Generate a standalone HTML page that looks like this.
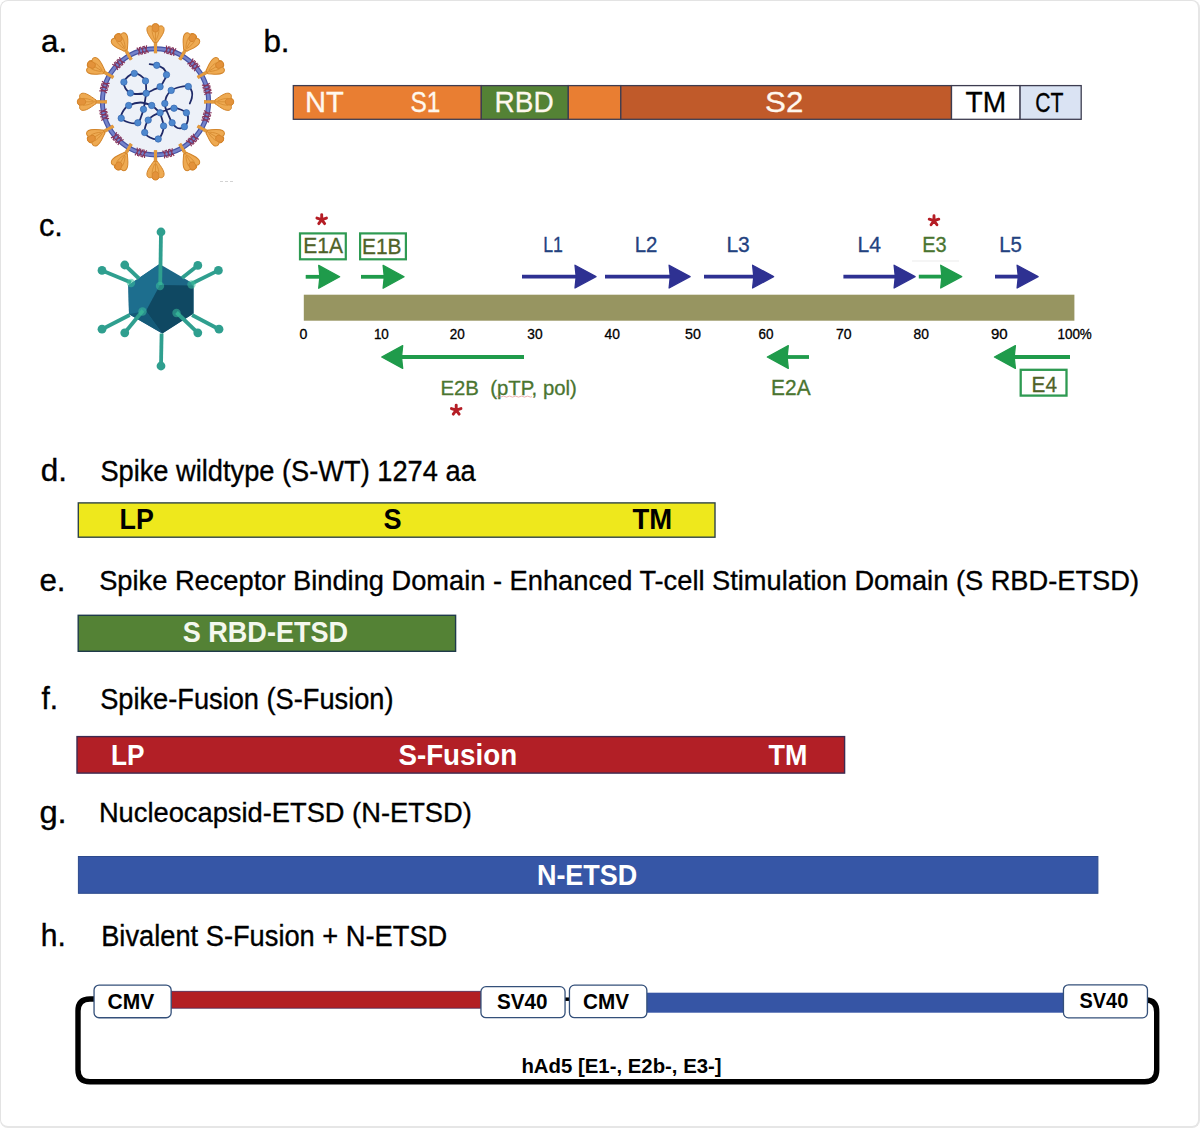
<!DOCTYPE html>
<html><head><meta charset="utf-8"><style>
html,body{margin:0;padding:0;background:#fff;width:1200px;height:1128px;overflow:hidden;font-family:"Liberation Sans", sans-serif;}
#frame{position:absolute;left:0;top:0;width:1197px;height:1125px;border:1px solid #e3e3e3;border-right:2px solid #e6e6e6;border-bottom:2px solid #e6e6e6;border-radius:8px;box-sizing:content-box;}
</style></head><body>
<div id="frame"></div>
<svg width="1200" height="1128" viewBox="0 0 1200 1128" style="position:absolute;left:0;top:0" font-family='"Liberation Sans", sans-serif'><text id="la" x="41.00" y="51.8" font-size="30.5" font-weight="normal" fill="#000" text-anchor="start" textLength="26.10" lengthAdjust="spacingAndGlyphs" stroke="#000" stroke-width="0.35">a.</text>
<text id="lb" x="263.40" y="51.6" font-size="30.5" font-weight="normal" fill="#000" text-anchor="start" textLength="26.13" lengthAdjust="spacingAndGlyphs" stroke="#000" stroke-width="0.35">b.</text>
<text id="lc" x="39.00" y="235.7" font-size="30.5" font-weight="normal" fill="#000" text-anchor="start" textLength="23.84" lengthAdjust="spacingAndGlyphs" stroke="#000" stroke-width="0.35">c.</text>
<g id="corona"><circle cx="155.5" cy="101.8" r="51.5" fill="#edf1f8"/><g transform="translate(155.50,101.80) rotate(0)"><rect x="-1.4" y="-62" width="2.8" height="13" fill="#e39b3e" stroke="#cf8228" stroke-width="0.5"/><path d="M-1.9,-59.5 C-4,-63 -8.6,-68 -8.6,-72.4 C-8.6,-75.6 -6,-76.6 -3.8,-75.5 C-3,-78.7 3,-78.7 3.8,-75.5 C6,-76.6 8.6,-75.6 8.6,-72.4 C8.6,-68 4,-63 1.9,-59.5 Z" fill="#eeaa52" stroke="#d2842a" stroke-width="1"/><ellipse cx="0" cy="-74" rx="3.3" ry="4.2" fill="#e3923a" stroke="#d07f25" stroke-width="0.7"/><path d="M0,-60.5 L0,-70 M-0.8,-62 C-2.6,-66 -3.6,-69.5 -3.4,-72.5 M0.8,-62 C2.6,-66 3.6,-69.5 3.4,-72.5" fill="none" stroke="#d58a30" stroke-width="0.8"/></g><g transform="translate(155.50,101.80) rotate(30)"><rect x="-1.4" y="-62" width="2.8" height="13" fill="#e39b3e" stroke="#cf8228" stroke-width="0.5"/><path d="M-1.9,-59.5 C-4,-63 -8.6,-68 -8.6,-72.4 C-8.6,-75.6 -6,-76.6 -3.8,-75.5 C-3,-78.7 3,-78.7 3.8,-75.5 C6,-76.6 8.6,-75.6 8.6,-72.4 C8.6,-68 4,-63 1.9,-59.5 Z" fill="#eeaa52" stroke="#d2842a" stroke-width="1"/><ellipse cx="0" cy="-74" rx="3.3" ry="4.2" fill="#e3923a" stroke="#d07f25" stroke-width="0.7"/><path d="M0,-60.5 L0,-70 M-0.8,-62 C-2.6,-66 -3.6,-69.5 -3.4,-72.5 M0.8,-62 C2.6,-66 3.6,-69.5 3.4,-72.5" fill="none" stroke="#d58a30" stroke-width="0.8"/></g><g transform="translate(155.50,101.80) rotate(60)"><rect x="-1.4" y="-62" width="2.8" height="13" fill="#e39b3e" stroke="#cf8228" stroke-width="0.5"/><path d="M-1.9,-59.5 C-4,-63 -8.6,-68 -8.6,-72.4 C-8.6,-75.6 -6,-76.6 -3.8,-75.5 C-3,-78.7 3,-78.7 3.8,-75.5 C6,-76.6 8.6,-75.6 8.6,-72.4 C8.6,-68 4,-63 1.9,-59.5 Z" fill="#eeaa52" stroke="#d2842a" stroke-width="1"/><ellipse cx="0" cy="-74" rx="3.3" ry="4.2" fill="#e3923a" stroke="#d07f25" stroke-width="0.7"/><path d="M0,-60.5 L0,-70 M-0.8,-62 C-2.6,-66 -3.6,-69.5 -3.4,-72.5 M0.8,-62 C2.6,-66 3.6,-69.5 3.4,-72.5" fill="none" stroke="#d58a30" stroke-width="0.8"/></g><g transform="translate(155.50,101.80) rotate(90)"><rect x="-1.4" y="-62" width="2.8" height="13" fill="#e39b3e" stroke="#cf8228" stroke-width="0.5"/><path d="M-1.9,-59.5 C-4,-63 -8.6,-68 -8.6,-72.4 C-8.6,-75.6 -6,-76.6 -3.8,-75.5 C-3,-78.7 3,-78.7 3.8,-75.5 C6,-76.6 8.6,-75.6 8.6,-72.4 C8.6,-68 4,-63 1.9,-59.5 Z" fill="#eeaa52" stroke="#d2842a" stroke-width="1"/><ellipse cx="0" cy="-74" rx="3.3" ry="4.2" fill="#e3923a" stroke="#d07f25" stroke-width="0.7"/><path d="M0,-60.5 L0,-70 M-0.8,-62 C-2.6,-66 -3.6,-69.5 -3.4,-72.5 M0.8,-62 C2.6,-66 3.6,-69.5 3.4,-72.5" fill="none" stroke="#d58a30" stroke-width="0.8"/></g><g transform="translate(155.50,101.80) rotate(120)"><rect x="-1.4" y="-62" width="2.8" height="13" fill="#e39b3e" stroke="#cf8228" stroke-width="0.5"/><path d="M-1.9,-59.5 C-4,-63 -8.6,-68 -8.6,-72.4 C-8.6,-75.6 -6,-76.6 -3.8,-75.5 C-3,-78.7 3,-78.7 3.8,-75.5 C6,-76.6 8.6,-75.6 8.6,-72.4 C8.6,-68 4,-63 1.9,-59.5 Z" fill="#eeaa52" stroke="#d2842a" stroke-width="1"/><ellipse cx="0" cy="-74" rx="3.3" ry="4.2" fill="#e3923a" stroke="#d07f25" stroke-width="0.7"/><path d="M0,-60.5 L0,-70 M-0.8,-62 C-2.6,-66 -3.6,-69.5 -3.4,-72.5 M0.8,-62 C2.6,-66 3.6,-69.5 3.4,-72.5" fill="none" stroke="#d58a30" stroke-width="0.8"/></g><g transform="translate(155.50,101.80) rotate(150)"><rect x="-1.4" y="-62" width="2.8" height="13" fill="#e39b3e" stroke="#cf8228" stroke-width="0.5"/><path d="M-1.9,-59.5 C-4,-63 -8.6,-68 -8.6,-72.4 C-8.6,-75.6 -6,-76.6 -3.8,-75.5 C-3,-78.7 3,-78.7 3.8,-75.5 C6,-76.6 8.6,-75.6 8.6,-72.4 C8.6,-68 4,-63 1.9,-59.5 Z" fill="#eeaa52" stroke="#d2842a" stroke-width="1"/><ellipse cx="0" cy="-74" rx="3.3" ry="4.2" fill="#e3923a" stroke="#d07f25" stroke-width="0.7"/><path d="M0,-60.5 L0,-70 M-0.8,-62 C-2.6,-66 -3.6,-69.5 -3.4,-72.5 M0.8,-62 C2.6,-66 3.6,-69.5 3.4,-72.5" fill="none" stroke="#d58a30" stroke-width="0.8"/></g><g transform="translate(155.50,101.80) rotate(180)"><rect x="-1.4" y="-62" width="2.8" height="13" fill="#e39b3e" stroke="#cf8228" stroke-width="0.5"/><path d="M-1.9,-59.5 C-4,-63 -8.6,-68 -8.6,-72.4 C-8.6,-75.6 -6,-76.6 -3.8,-75.5 C-3,-78.7 3,-78.7 3.8,-75.5 C6,-76.6 8.6,-75.6 8.6,-72.4 C8.6,-68 4,-63 1.9,-59.5 Z" fill="#eeaa52" stroke="#d2842a" stroke-width="1"/><ellipse cx="0" cy="-74" rx="3.3" ry="4.2" fill="#e3923a" stroke="#d07f25" stroke-width="0.7"/><path d="M0,-60.5 L0,-70 M-0.8,-62 C-2.6,-66 -3.6,-69.5 -3.4,-72.5 M0.8,-62 C2.6,-66 3.6,-69.5 3.4,-72.5" fill="none" stroke="#d58a30" stroke-width="0.8"/></g><g transform="translate(155.50,101.80) rotate(210)"><rect x="-1.4" y="-62" width="2.8" height="13" fill="#e39b3e" stroke="#cf8228" stroke-width="0.5"/><path d="M-1.9,-59.5 C-4,-63 -8.6,-68 -8.6,-72.4 C-8.6,-75.6 -6,-76.6 -3.8,-75.5 C-3,-78.7 3,-78.7 3.8,-75.5 C6,-76.6 8.6,-75.6 8.6,-72.4 C8.6,-68 4,-63 1.9,-59.5 Z" fill="#eeaa52" stroke="#d2842a" stroke-width="1"/><ellipse cx="0" cy="-74" rx="3.3" ry="4.2" fill="#e3923a" stroke="#d07f25" stroke-width="0.7"/><path d="M0,-60.5 L0,-70 M-0.8,-62 C-2.6,-66 -3.6,-69.5 -3.4,-72.5 M0.8,-62 C2.6,-66 3.6,-69.5 3.4,-72.5" fill="none" stroke="#d58a30" stroke-width="0.8"/></g><g transform="translate(155.50,101.80) rotate(240)"><rect x="-1.4" y="-62" width="2.8" height="13" fill="#e39b3e" stroke="#cf8228" stroke-width="0.5"/><path d="M-1.9,-59.5 C-4,-63 -8.6,-68 -8.6,-72.4 C-8.6,-75.6 -6,-76.6 -3.8,-75.5 C-3,-78.7 3,-78.7 3.8,-75.5 C6,-76.6 8.6,-75.6 8.6,-72.4 C8.6,-68 4,-63 1.9,-59.5 Z" fill="#eeaa52" stroke="#d2842a" stroke-width="1"/><ellipse cx="0" cy="-74" rx="3.3" ry="4.2" fill="#e3923a" stroke="#d07f25" stroke-width="0.7"/><path d="M0,-60.5 L0,-70 M-0.8,-62 C-2.6,-66 -3.6,-69.5 -3.4,-72.5 M0.8,-62 C2.6,-66 3.6,-69.5 3.4,-72.5" fill="none" stroke="#d58a30" stroke-width="0.8"/></g><g transform="translate(155.50,101.80) rotate(270)"><rect x="-1.4" y="-62" width="2.8" height="13" fill="#e39b3e" stroke="#cf8228" stroke-width="0.5"/><path d="M-1.9,-59.5 C-4,-63 -8.6,-68 -8.6,-72.4 C-8.6,-75.6 -6,-76.6 -3.8,-75.5 C-3,-78.7 3,-78.7 3.8,-75.5 C6,-76.6 8.6,-75.6 8.6,-72.4 C8.6,-68 4,-63 1.9,-59.5 Z" fill="#eeaa52" stroke="#d2842a" stroke-width="1"/><ellipse cx="0" cy="-74" rx="3.3" ry="4.2" fill="#e3923a" stroke="#d07f25" stroke-width="0.7"/><path d="M0,-60.5 L0,-70 M-0.8,-62 C-2.6,-66 -3.6,-69.5 -3.4,-72.5 M0.8,-62 C2.6,-66 3.6,-69.5 3.4,-72.5" fill="none" stroke="#d58a30" stroke-width="0.8"/></g><g transform="translate(155.50,101.80) rotate(300)"><rect x="-1.4" y="-62" width="2.8" height="13" fill="#e39b3e" stroke="#cf8228" stroke-width="0.5"/><path d="M-1.9,-59.5 C-4,-63 -8.6,-68 -8.6,-72.4 C-8.6,-75.6 -6,-76.6 -3.8,-75.5 C-3,-78.7 3,-78.7 3.8,-75.5 C6,-76.6 8.6,-75.6 8.6,-72.4 C8.6,-68 4,-63 1.9,-59.5 Z" fill="#eeaa52" stroke="#d2842a" stroke-width="1"/><ellipse cx="0" cy="-74" rx="3.3" ry="4.2" fill="#e3923a" stroke="#d07f25" stroke-width="0.7"/><path d="M0,-60.5 L0,-70 M-0.8,-62 C-2.6,-66 -3.6,-69.5 -3.4,-72.5 M0.8,-62 C2.6,-66 3.6,-69.5 3.4,-72.5" fill="none" stroke="#d58a30" stroke-width="0.8"/></g><g transform="translate(155.50,101.80) rotate(330)"><rect x="-1.4" y="-62" width="2.8" height="13" fill="#e39b3e" stroke="#cf8228" stroke-width="0.5"/><path d="M-1.9,-59.5 C-4,-63 -8.6,-68 -8.6,-72.4 C-8.6,-75.6 -6,-76.6 -3.8,-75.5 C-3,-78.7 3,-78.7 3.8,-75.5 C6,-76.6 8.6,-75.6 8.6,-72.4 C8.6,-68 4,-63 1.9,-59.5 Z" fill="#eeaa52" stroke="#d2842a" stroke-width="1"/><ellipse cx="0" cy="-74" rx="3.3" ry="4.2" fill="#e3923a" stroke="#d07f25" stroke-width="0.7"/><path d="M0,-60.5 L0,-70 M-0.8,-62 C-2.6,-66 -3.6,-69.5 -3.4,-72.5 M0.8,-62 C2.6,-66 3.6,-69.5 3.4,-72.5" fill="none" stroke="#d58a30" stroke-width="0.8"/></g><circle cx="155.5" cy="101.8" r="53.1" fill="none" stroke="#4654a4" stroke-width="5.0"/><circle cx="155.5" cy="101.8" r="53.1" fill="none" stroke="#7583ca" stroke-width="2.6"/><g transform="translate(170.14,50.76) rotate(16)"><path d="M-5,-4 L-2.2,4 M-2.2,-4 L-5,4 M-1.4,-4 L1.4,4 M1.4,-4 L-1.4,4 M2.2,-4 L5,4 M5,-4 L2.2,4" stroke="#86345c" stroke-width="1.2" fill="none"/></g><g transform="translate(193.70,64.91) rotate(46)"><path d="M-5,-4 L-2.2,4 M-2.2,-4 L-5,4 M-1.4,-4 L1.4,4 M1.4,-4 L-1.4,4 M2.2,-4 L5,4 M5,-4 L2.2,4" stroke="#86345c" stroke-width="1.2" fill="none"/></g><g transform="translate(207.02,88.95) rotate(76)"><path d="M-5,-4 L-2.2,4 M-2.2,-4 L-5,4 M-1.4,-4 L1.4,4 M1.4,-4 L-1.4,4 M2.2,-4 L5,4 M5,-4 L2.2,4" stroke="#86345c" stroke-width="1.2" fill="none"/></g><g transform="translate(206.54,116.44) rotate(106)"><path d="M-5,-4 L-2.2,4 M-2.2,-4 L-5,4 M-1.4,-4 L1.4,4 M1.4,-4 L-1.4,4 M2.2,-4 L5,4 M5,-4 L2.2,4" stroke="#86345c" stroke-width="1.2" fill="none"/></g><g transform="translate(192.39,140.00) rotate(136)"><path d="M-5,-4 L-2.2,4 M-2.2,-4 L-5,4 M-1.4,-4 L1.4,4 M1.4,-4 L-1.4,4 M2.2,-4 L5,4 M5,-4 L2.2,4" stroke="#86345c" stroke-width="1.2" fill="none"/></g><g transform="translate(168.35,153.32) rotate(166)"><path d="M-5,-4 L-2.2,4 M-2.2,-4 L-5,4 M-1.4,-4 L1.4,4 M1.4,-4 L-1.4,4 M2.2,-4 L5,4 M5,-4 L2.2,4" stroke="#86345c" stroke-width="1.2" fill="none"/></g><g transform="translate(140.86,152.84) rotate(196)"><path d="M-5,-4 L-2.2,4 M-2.2,-4 L-5,4 M-1.4,-4 L1.4,4 M1.4,-4 L-1.4,4 M2.2,-4 L5,4 M5,-4 L2.2,4" stroke="#86345c" stroke-width="1.2" fill="none"/></g><g transform="translate(117.30,138.69) rotate(226)"><path d="M-5,-4 L-2.2,4 M-2.2,-4 L-5,4 M-1.4,-4 L1.4,4 M1.4,-4 L-1.4,4 M2.2,-4 L5,4 M5,-4 L2.2,4" stroke="#86345c" stroke-width="1.2" fill="none"/></g><g transform="translate(103.98,114.65) rotate(256)"><path d="M-5,-4 L-2.2,4 M-2.2,-4 L-5,4 M-1.4,-4 L1.4,4 M1.4,-4 L-1.4,4 M2.2,-4 L5,4 M5,-4 L2.2,4" stroke="#86345c" stroke-width="1.2" fill="none"/></g><g transform="translate(104.46,87.16) rotate(286)"><path d="M-5,-4 L-2.2,4 M-2.2,-4 L-5,4 M-1.4,-4 L1.4,4 M1.4,-4 L-1.4,4 M2.2,-4 L5,4 M5,-4 L2.2,4" stroke="#86345c" stroke-width="1.2" fill="none"/></g><g transform="translate(118.61,63.60) rotate(316)"><path d="M-5,-4 L-2.2,4 M-2.2,-4 L-5,4 M-1.4,-4 L1.4,4 M1.4,-4 L-1.4,4 M2.2,-4 L5,4 M5,-4 L2.2,4" stroke="#86345c" stroke-width="1.2" fill="none"/></g><g transform="translate(142.65,50.28) rotate(346)"><path d="M-5,-4 L-2.2,4 M-2.2,-4 L-5,4 M-1.4,-4 L1.4,4 M1.4,-4 L-1.4,4 M2.2,-4 L5,4 M5,-4 L2.2,4" stroke="#86345c" stroke-width="1.2" fill="none"/></g><g transform="translate(155.50,101.80) rotate(0)"><rect x="-1.5" y="-57" width="3" height="8.5" fill="#e39b3e"/></g><g transform="translate(155.50,101.80) rotate(30)"><rect x="-1.5" y="-57" width="3" height="8.5" fill="#e39b3e"/></g><g transform="translate(155.50,101.80) rotate(60)"><rect x="-1.5" y="-57" width="3" height="8.5" fill="#e39b3e"/></g><g transform="translate(155.50,101.80) rotate(90)"><rect x="-1.5" y="-57" width="3" height="8.5" fill="#e39b3e"/></g><g transform="translate(155.50,101.80) rotate(120)"><rect x="-1.5" y="-57" width="3" height="8.5" fill="#e39b3e"/></g><g transform="translate(155.50,101.80) rotate(150)"><rect x="-1.5" y="-57" width="3" height="8.5" fill="#e39b3e"/></g><g transform="translate(155.50,101.80) rotate(180)"><rect x="-1.5" y="-57" width="3" height="8.5" fill="#e39b3e"/></g><g transform="translate(155.50,101.80) rotate(210)"><rect x="-1.5" y="-57" width="3" height="8.5" fill="#e39b3e"/></g><g transform="translate(155.50,101.80) rotate(240)"><rect x="-1.5" y="-57" width="3" height="8.5" fill="#e39b3e"/></g><g transform="translate(155.50,101.80) rotate(270)"><rect x="-1.5" y="-57" width="3" height="8.5" fill="#e39b3e"/></g><g transform="translate(155.50,101.80) rotate(300)"><rect x="-1.5" y="-57" width="3" height="8.5" fill="#e39b3e"/></g><g transform="translate(155.50,101.80) rotate(330)"><rect x="-1.5" y="-57" width="3" height="8.5" fill="#e39b3e"/></g><path d="M149.7,64.2 C150.9,64.4 154.4,64.6 156.7,65.3 C159.0,66.0 161.9,66.9 163.5,68.5 C165.1,70.1 166.4,72.7 166.5,74.8 C166.6,76.9 164.9,79.0 163.8,81 C162.7,83.0 161.9,85.2 160.1,86.7 C158.3,88.2 155.3,88.9 153,90 C150.7,91.1 147.3,92.8 146.2,93.3" fill="none" stroke="#1f2a68" stroke-width="1.8" stroke-linecap="round"/><path d="M146.2,93.3 C146.1,91.2 146.4,84.0 145.5,81 C144.6,78.0 142.4,76.8 140.5,75.5 C138.6,74.2 136.4,73.2 134.3,73.4 C132.2,73.6 129.7,75.0 128,76.5 C126.3,78.0 124.3,80.1 123.9,82.1 C123.5,84.1 124.4,86.7 125.5,88.5 C126.6,90.3 128.3,92.2 130.4,93.1 C132.5,94.0 135.4,94.0 138,94 C140.6,94.0 144.8,93.4 146.2,93.3" fill="none" stroke="#1f2a68" stroke-width="1.8" stroke-linecap="round"/><path d="M146.2,93.3 C146.0,94.6 145.4,98.3 145,101 C144.6,103.7 144.2,106.6 143.5,109.3 C142.8,112.0 141.9,114.8 141,117 C140.1,119.2 139.8,121.9 137.8,122.8 C135.8,123.7 131.8,123.3 129,122.5 C126.2,121.7 122.1,120.2 121.2,118.2 C120.3,116.2 122.2,112.6 123.5,110.5 C124.8,108.4 125.9,106.8 128.7,105.5 C131.5,104.2 136.7,102.5 140.5,102.5 C144.3,102.5 149.1,104.4 151.7,105.5 C154.3,106.6 154.6,107.8 156,109 C157.4,110.2 159.4,112.2 160.1,112.8" fill="none" stroke="#1f2a68" stroke-width="1.8" stroke-linecap="round"/><path d="M160.1,112.8 C159.0,113.2 155.5,114.3 153.5,115.5 C151.5,116.7 149.5,118.3 148.2,120.1 C146.9,121.8 146.1,123.9 145.5,126 C144.9,128.1 143.9,130.6 144.7,132.5 C145.4,134.4 147.8,136.4 150,137.5 C152.2,138.6 156.1,139.8 158.2,139 C160.3,138.2 161.6,134.7 162.5,132.5 C163.4,130.3 163.7,128.2 163.6,125.9 C163.5,123.7 162.6,121.2 162,119 C161.4,116.8 160.4,113.8 160.1,112.8" fill="none" stroke="#1f2a68" stroke-width="1.8" stroke-linecap="round"/><path d="M160.1,112.8 C161.1,112.3 163.7,110.8 166,110 C168.3,109.2 171.6,108.3 174,108.2 C176.4,108.1 178.4,108.7 180.5,109.5 C182.6,110.3 185.2,111.1 186.4,112.8 C187.7,114.5 188.3,117.2 188,119.5 C187.7,121.8 186.2,125.3 184.4,126.7 C182.7,128.1 179.6,128.7 177.5,128 C175.4,127.3 173.7,125.1 172.1,122.8 C170.5,120.5 169.1,116.5 168,114 C166.9,111.5 166.0,109.8 165.5,108 C165.0,106.2 164.9,104.2 164.8,103.5" fill="none" stroke="#1f2a68" stroke-width="1.8" stroke-linecap="round"/><path d="M164.8,103.5 C165.1,102.3 165.4,98.7 166.5,96.5 C167.6,94.3 168.9,92.0 171.2,90.4 C173.4,88.8 177.2,87.7 180,87 C182.8,86.3 186.3,85.7 188.3,86.5 C190.3,87.3 191.4,90.1 192,92 C192.6,93.9 192.2,96.1 191.8,98 C191.4,99.9 190.1,102.6 189.8,103.5" fill="none" stroke="#1f2a68" stroke-width="1.8" stroke-linecap="round"/><circle cx="156.7" cy="65.3" r="3.2" fill="#4d88cf" stroke="#3566ae" stroke-width="0.7"/><circle cx="166.5" cy="74.8" r="3.2" fill="#4d88cf" stroke="#3566ae" stroke-width="0.7"/><circle cx="160.1" cy="86.7" r="3.2" fill="#4d88cf" stroke="#3566ae" stroke-width="0.7"/><circle cx="146.2" cy="93.3" r="3.2" fill="#4d88cf" stroke="#3566ae" stroke-width="0.7"/><circle cx="145.5" cy="81" r="3.2" fill="#4d88cf" stroke="#3566ae" stroke-width="0.7"/><circle cx="134.3" cy="73.4" r="3.2" fill="#4d88cf" stroke="#3566ae" stroke-width="0.7"/><circle cx="123.9" cy="82.1" r="3.2" fill="#4d88cf" stroke="#3566ae" stroke-width="0.7"/><circle cx="130.4" cy="93.1" r="3.2" fill="#4d88cf" stroke="#3566ae" stroke-width="0.7"/><circle cx="171.2" cy="90.4" r="3.2" fill="#4d88cf" stroke="#3566ae" stroke-width="0.7"/><circle cx="188.3" cy="86.5" r="3.2" fill="#4d88cf" stroke="#3566ae" stroke-width="0.7"/><circle cx="164.8" cy="103.5" r="3.2" fill="#4d88cf" stroke="#3566ae" stroke-width="0.7"/><circle cx="151.7" cy="105.5" r="3.2" fill="#4d88cf" stroke="#3566ae" stroke-width="0.7"/><circle cx="143.5" cy="109.3" r="3.2" fill="#4d88cf" stroke="#3566ae" stroke-width="0.7"/><circle cx="128.7" cy="105.5" r="3.2" fill="#4d88cf" stroke="#3566ae" stroke-width="0.7"/><circle cx="121.2" cy="118.2" r="3.2" fill="#4d88cf" stroke="#3566ae" stroke-width="0.7"/><circle cx="137.8" cy="122.8" r="3.2" fill="#4d88cf" stroke="#3566ae" stroke-width="0.7"/><circle cx="160.1" cy="112.8" r="3.2" fill="#4d88cf" stroke="#3566ae" stroke-width="0.7"/><circle cx="148.2" cy="120.1" r="3.2" fill="#4d88cf" stroke="#3566ae" stroke-width="0.7"/><circle cx="144.7" cy="132.5" r="3.2" fill="#4d88cf" stroke="#3566ae" stroke-width="0.7"/><circle cx="158.2" cy="139" r="3.2" fill="#4d88cf" stroke="#3566ae" stroke-width="0.7"/><circle cx="163.6" cy="125.9" r="3.2" fill="#4d88cf" stroke="#3566ae" stroke-width="0.7"/><circle cx="174" cy="108.2" r="3.2" fill="#4d88cf" stroke="#3566ae" stroke-width="0.7"/><circle cx="186.4" cy="112.8" r="3.2" fill="#4d88cf" stroke="#3566ae" stroke-width="0.7"/><circle cx="184.4" cy="126.7" r="3.2" fill="#4d88cf" stroke="#3566ae" stroke-width="0.7"/><circle cx="172.1" cy="122.8" r="3.2" fill="#4d88cf" stroke="#3566ae" stroke-width="0.7"/><path d="M220,181.5 h3 M225,181.5 h3 M230,181.5 h3" stroke="#c8c8c8" stroke-width="0.8"/></g>
<rect x="293.3" y="85.6" width="188.0" height="33.7" fill="#e97e32" stroke="#3d3c50" stroke-width="1.3"/>
<rect x="481.3" y="85.6" width="86.99999999999994" height="33.7" fill="#548235" stroke="#3d3c50" stroke-width="1.3"/>
<rect x="568.3" y="85.6" width="52.5" height="33.7" fill="#e97e32" stroke="#3d3c50" stroke-width="1.3"/>
<rect x="620.8" y="85.6" width="330.70000000000005" height="33.7" fill="#c05a2a" stroke="#3d3c50" stroke-width="1.3"/>
<rect x="951.5" y="85.6" width="68.60000000000002" height="33.7" fill="#ffffff" stroke="#3d3c50" stroke-width="1.3"/>
<rect x="1020.1" y="85.6" width="61.10000000000002" height="33.7" fill="#dae3f3" stroke="#3d3c50" stroke-width="1.3"/>
<text id="bNT" x="305.00" y="112.25" font-size="29.5" font-weight="normal" fill="#fff8ee" text-anchor="start" textLength="38.87" lengthAdjust="spacingAndGlyphs" stroke="#fff8ee" stroke-width="0.3">NT</text>
<text id="bS1" x="410.50" y="112.25" font-size="29.5" font-weight="normal" fill="#fff8ee" text-anchor="start" textLength="29.95" lengthAdjust="spacingAndGlyphs" stroke="#fff8ee" stroke-width="0.3">S1</text>
<text id="bRBD" x="494.50" y="112.4" font-size="29.5" font-weight="normal" fill="#fff8ee" text-anchor="start" textLength="59.18" lengthAdjust="spacingAndGlyphs" stroke="#fff8ee" stroke-width="0.3">RBD</text>
<text id="bS2" x="765.10" y="112.3" font-size="29.5" font-weight="normal" fill="#fff8ee" text-anchor="start" textLength="38.29" lengthAdjust="spacingAndGlyphs" stroke="#fff8ee" stroke-width="0.3">S2</text>
<text id="bTM" x="965.60" y="112.1" font-size="28.8" font-weight="normal" fill="#000" text-anchor="start" textLength="40.67" lengthAdjust="spacingAndGlyphs" stroke="#000" stroke-width="0.3">TM</text>
<text id="bCT" x="1035.20" y="111.9" font-size="28.3" font-weight="normal" fill="#000" text-anchor="start" textLength="28.22" lengthAdjust="spacingAndGlyphs" stroke="#000" stroke-width="0.3">CT</text>
<g id="adeno"><polygon points="159.5,264 193.5,283.8 193.5,313.6 162.3,333.5 129,314.3 128.3,285.2" fill="#1c6686"/><polygon points="128.3,285.2 159.5,264 160,285 146,311 129,314.3" fill="#1d6e8e"/><polygon points="160,285 193.5,285.5 193.5,313.6 162.3,333.5 146,311" fill="#0f4862"/><polygon points="129,314.3 146,311 162.3,333.5" fill="#155a78"/><line x1="161" y1="232" x2="160.2" y2="285" stroke="#2f9f8f" stroke-width="3.8"/><circle cx="161" cy="232" r="4.4" fill="#2f9f8f"/><line x1="161" y1="366" x2="161.6" y2="333.5" stroke="#2f9f8f" stroke-width="3.8"/><circle cx="161" cy="366" r="4.4" fill="#2f9f8f"/><line x1="102" y1="270.4" x2="131" y2="282.4" stroke="#2f9f8f" stroke-width="3.8"/><circle cx="102" cy="270.4" r="4.4" fill="#2f9f8f"/><line x1="124.75" y1="265" x2="139" y2="278.5" stroke="#2f9f8f" stroke-width="3.8"/><circle cx="124.75" cy="265" r="4.4" fill="#2f9f8f"/><line x1="218.4" y1="270.4" x2="191.4" y2="283.8" stroke="#2f9f8f" stroke-width="3.8"/><circle cx="218.4" cy="270.4" r="4.4" fill="#2f9f8f"/><line x1="197.8" y1="265.4" x2="182" y2="278" stroke="#2f9f8f" stroke-width="3.8"/><circle cx="197.8" cy="265.4" r="4.4" fill="#2f9f8f"/><line x1="102" y1="329.2" x2="129.7" y2="315" stroke="#2f9f8f" stroke-width="3.8"/><circle cx="102" cy="329.2" r="4.4" fill="#2f9f8f"/><line x1="124.75" y1="332.8" x2="143" y2="310.5" stroke="#2f9f8f" stroke-width="3.8"/><circle cx="124.75" cy="332.8" r="4.4" fill="#2f9f8f"/><line x1="219" y1="329.2" x2="192" y2="315" stroke="#2f9f8f" stroke-width="3.8"/><circle cx="219" cy="329.2" r="4.4" fill="#2f9f8f"/><line x1="197.8" y1="332.8" x2="176.5" y2="312.5" stroke="#2f9f8f" stroke-width="3.8"/><circle cx="197.8" cy="332.8" r="4.4" fill="#2f9f8f"/><circle cx="160" cy="286" r="4.2" fill="#3bbf9c" opacity="0.55"/><circle cx="142.5" cy="311.5" r="4.2" fill="#3bbf9c" opacity="0.55"/><circle cx="176.5" cy="313" r="4.2" fill="#3bbf9c" opacity="0.55"/><circle cx="131" cy="283" r="4.2" fill="#3bbf9c" opacity="0.55"/><circle cx="191.5" cy="284.5" r="4.2" fill="#3bbf9c" opacity="0.55"/></g>
<rect x="303.8" y="294.7" width="770.6" height="26" fill="#979561"/>
<text id="t0" x="299.50" y="339.3" font-size="13.8" font-weight="normal" fill="#000" text-anchor="start" textLength="7.86" lengthAdjust="spacingAndGlyphs" stroke="#000" stroke-width="0.3">0</text>
<text id="t1" x="373.90" y="339.3" font-size="13.8" font-weight="normal" fill="#000" text-anchor="start" textLength="14.93" lengthAdjust="spacingAndGlyphs" stroke="#000" stroke-width="0.3">10</text>
<text id="t2" x="449.70" y="339.3" font-size="13.8" font-weight="normal" fill="#000" text-anchor="start" textLength="14.98" lengthAdjust="spacingAndGlyphs" stroke="#000" stroke-width="0.3">20</text>
<text id="t3" x="527.30" y="339.3" font-size="13.8" font-weight="normal" fill="#000" text-anchor="start" textLength="15.27" lengthAdjust="spacingAndGlyphs" stroke="#000" stroke-width="0.3">30</text>
<text id="t4" x="604.50" y="339.3" font-size="13.8" font-weight="normal" fill="#000" text-anchor="start" textLength="15.36" lengthAdjust="spacingAndGlyphs" stroke="#000" stroke-width="0.3">40</text>
<text id="t5" x="685.00" y="339.3" font-size="13.8" font-weight="normal" fill="#000" text-anchor="start" textLength="15.85" lengthAdjust="spacingAndGlyphs" stroke="#000" stroke-width="0.3">50</text>
<text id="t6" x="758.60" y="339.3" font-size="13.8" font-weight="normal" fill="#000" text-anchor="start" textLength="14.96" lengthAdjust="spacingAndGlyphs" stroke="#000" stroke-width="0.3">60</text>
<text id="t7" x="836.10" y="339.3" font-size="13.8" font-weight="normal" fill="#000" text-anchor="start" textLength="15.57" lengthAdjust="spacingAndGlyphs" stroke="#000" stroke-width="0.3">70</text>
<text id="t8" x="913.50" y="339.3" font-size="13.8" font-weight="normal" fill="#000" text-anchor="start" textLength="15.36" lengthAdjust="spacingAndGlyphs" stroke="#000" stroke-width="0.3">80</text>
<text id="t9" x="990.90" y="339.3" font-size="13.8" font-weight="normal" fill="#000" text-anchor="start" textLength="16.68" lengthAdjust="spacingAndGlyphs" stroke="#000" stroke-width="0.3">90</text>
<text id="t10" x="1057.50" y="339.3" font-size="13.8" font-weight="normal" fill="#000" text-anchor="start" textLength="34.29" lengthAdjust="spacingAndGlyphs" stroke="#000" stroke-width="0.3">100%</text>
<rect x="300.0" y="233.4" width="45.8" height="25.9" fill="none" stroke="#2e9a52" stroke-width="2.2"/>
<rect x="360.1" y="233.4" width="45.8" height="25.9" fill="none" stroke="#2e9a52" stroke-width="2.2"/>
<text id="E1A" x="303.30" y="253.3" font-size="21.5" font-weight="normal" fill="#4f6228" text-anchor="start" textLength="39.68" lengthAdjust="spacingAndGlyphs" stroke="#4f6228" stroke-width="0.3">E1A</text>
<text id="E1B" x="362.00" y="253.5" font-size="21.8" font-weight="normal" fill="#4f6228" text-anchor="start" textLength="39.46" lengthAdjust="spacingAndGlyphs" stroke="#4f6228" stroke-width="0.3">E1B</text>
<path d="M321.70,219.60 L321.70,214.60 M321.70,219.60 L326.46,218.05 M321.70,219.60 L324.64,223.65 M321.70,219.60 L318.76,223.65 M321.70,219.60 L316.94,218.05 " stroke="#b51d25" stroke-width="2.9" stroke-linecap="round" fill="none"/>
<line x1="305.7" y1="276.8" x2="321.6" y2="276.8" stroke="#1f9b4b" stroke-width="3.8"/>
<path d="M318.70,265.40 L339.70,276.8 L318.70,288.20 L319.90,276.8 Z" fill="#1f9b4b" stroke="#1f9b4b" stroke-width="1.3" stroke-linejoin="round"/>
<line x1="361" y1="276.8" x2="386" y2="276.8" stroke="#1f9b4b" stroke-width="3.8"/>
<path d="M383.10,265.40 L404.10,276.8 L383.10,288.20 L384.30,276.8 Z" fill="#1f9b4b" stroke="#1f9b4b" stroke-width="1.3" stroke-linejoin="round"/>
<text id="L1" x="543.20" y="251.8" font-size="21.2" font-weight="normal" fill="#23427f" text-anchor="start" textLength="19.74" lengthAdjust="spacingAndGlyphs" stroke="#23427f" stroke-width="0.3">L1</text>
<text id="L2" x="634.70" y="251.8" font-size="21.2" font-weight="normal" fill="#23427f" text-anchor="start" textLength="22.71" lengthAdjust="spacingAndGlyphs" stroke="#23427f" stroke-width="0.3">L2</text>
<text id="L3" x="726.40" y="251.8" font-size="21.2" font-weight="normal" fill="#23427f" text-anchor="start" textLength="23.39" lengthAdjust="spacingAndGlyphs" stroke="#23427f" stroke-width="0.3">L3</text>
<text id="L4" x="857.50" y="251.8" font-size="21.2" font-weight="normal" fill="#23427f" text-anchor="start" textLength="23.45" lengthAdjust="spacingAndGlyphs" stroke="#23427f" stroke-width="0.3">L4</text>
<text id="L5" x="999.20" y="251.8" font-size="21.2" font-weight="normal" fill="#23427f" text-anchor="start" textLength="22.66" lengthAdjust="spacingAndGlyphs" stroke="#23427f" stroke-width="0.3">L5</text>
<text id="E3" x="922.30" y="251.8" font-size="21.2" font-weight="normal" fill="#4a7530" text-anchor="start" textLength="24.39" lengthAdjust="spacingAndGlyphs" stroke="#4a7530" stroke-width="0.3">E3</text>
<path d="M934.00,220.70 L934.00,215.70 M934.00,220.70 L938.76,219.15 M934.00,220.70 L936.94,224.75 M934.00,220.70 L931.06,224.75 M934.00,220.70 L929.24,219.15 " stroke="#b51d25" stroke-width="2.9" stroke-linecap="round" fill="none"/>
<line x1="912" y1="261" x2="959" y2="261" stroke="#e6e6e6" stroke-width="0.8"/>
<line x1="522" y1="276.6" x2="577.9" y2="276.6" stroke="#2e3192" stroke-width="3.8"/>
<path d="M575.00,265.20 L596.00,276.6 L575.00,288.00 L576.20,276.6 Z" fill="#2e3192" stroke="#2e3192" stroke-width="1.3" stroke-linejoin="round"/>
<line x1="605" y1="276.6" x2="672" y2="276.6" stroke="#2e3192" stroke-width="3.8"/>
<path d="M669.10,265.20 L690.10,276.6 L669.10,288.00 L670.30,276.6 Z" fill="#2e3192" stroke="#2e3192" stroke-width="1.3" stroke-linejoin="round"/>
<line x1="704" y1="276.6" x2="755.5" y2="276.6" stroke="#2e3192" stroke-width="3.8"/>
<path d="M752.60,265.20 L773.60,276.6 L752.60,288.00 L753.80,276.6 Z" fill="#2e3192" stroke="#2e3192" stroke-width="1.3" stroke-linejoin="round"/>
<line x1="843.4" y1="276.6" x2="897" y2="276.6" stroke="#2e3192" stroke-width="3.8"/>
<path d="M894.10,265.20 L915.10,276.6 L894.10,288.00 L895.30,276.6 Z" fill="#2e3192" stroke="#2e3192" stroke-width="1.3" stroke-linejoin="round"/>
<line x1="918.8" y1="276.6" x2="943.6" y2="276.6" stroke="#1f9b4b" stroke-width="3.8"/>
<path d="M940.70,265.20 L961.70,276.6 L940.70,288.00 L941.90,276.6 Z" fill="#1f9b4b" stroke="#1f9b4b" stroke-width="1.3" stroke-linejoin="round"/>
<line x1="995" y1="276.6" x2="1020" y2="276.6" stroke="#2e3192" stroke-width="3.8"/>
<path d="M1017.10,265.20 L1038.10,276.6 L1017.10,288.00 L1018.30,276.6 Z" fill="#2e3192" stroke="#2e3192" stroke-width="1.3" stroke-linejoin="round"/>
<line x1="524" y1="357" x2="399.8" y2="357" stroke="#1f9b4b" stroke-width="3.8"/>
<path d="M402.70,345.60 L381.70,357 L402.70,368.40 L401.50,357 Z" fill="#1f9b4b" stroke="#1f9b4b" stroke-width="1.3" stroke-linejoin="round"/>
<line x1="809" y1="357" x2="785.4" y2="357" stroke="#1f9b4b" stroke-width="3.8"/>
<path d="M788.30,345.60 L767.30,357 L788.30,368.40 L787.10,357 Z" fill="#1f9b4b" stroke="#1f9b4b" stroke-width="1.3" stroke-linejoin="round"/>
<line x1="1070" y1="357" x2="1012.5" y2="357" stroke="#1f9b4b" stroke-width="3.8"/>
<path d="M1015.40,345.60 L994.40,357 L1015.40,368.40 L1014.20,357 Z" fill="#1f9b4b" stroke="#1f9b4b" stroke-width="1.3" stroke-linejoin="round"/>
<text id="E2B" x="440.50" y="394.5" font-size="21" font-weight="normal" fill="#4a7530" text-anchor="start" textLength="136.28" lengthAdjust="spacingAndGlyphs" stroke="#4a7530" stroke-width="0.3" xml:space="preserve">E2B  (pTP, pol)</text>
<path d="M496,396.6 q1.5,-1 3,0 t3,0 t3,0 t3,0 t3,0 t3,0 t3,0 t3,0 t3,0 t3,0 t3,0 t3,0" fill="none" stroke="#e08080" stroke-width="0.6"/>
<path d="M456.20,410.10 L456.20,405.10 M456.20,410.10 L460.96,408.55 M456.20,410.10 L459.14,414.15 M456.20,410.10 L453.26,414.15 M456.20,410.10 L451.44,408.55 " stroke="#b51d25" stroke-width="2.9" stroke-linecap="round" fill="none"/>
<text id="E2A" x="771.10" y="394.7" font-size="21.4" font-weight="normal" fill="#4a7530" text-anchor="start" textLength="39.50" lengthAdjust="spacingAndGlyphs" stroke="#4a7530" stroke-width="0.3">E2A</text>
<rect x="1020.7" y="369.8" width="45.8" height="25.8" fill="none" stroke="#2e9a52" stroke-width="2.3"/>
<text id="E4" x="1031.60" y="392.1" font-size="21.5" font-weight="normal" fill="#4f6228" text-anchor="start" textLength="25.37" lengthAdjust="spacingAndGlyphs" stroke="#4f6228" stroke-width="0.3">E4</text>
<text id="ld" x="40.70" y="480.8" font-size="30.5" font-weight="normal" fill="#000" text-anchor="start" textLength="26.20" lengthAdjust="spacingAndGlyphs" stroke="#000" stroke-width="0.35">d.</text>
<text id="hd" x="100.40" y="480.7" font-size="28.8" font-weight="normal" fill="#000" text-anchor="start" textLength="375.38" lengthAdjust="spacingAndGlyphs" stroke="#000" stroke-width="0.35">Spike wildtype (S-WT) 1274 aa</text>
<rect x="78.3" y="502.9" width="636.7" height="34.3" fill="#eee81c" stroke="#2f4446" stroke-width="1.4"/>
<text id="dLP" x="119.50" y="528.75" font-size="29.3" font-weight="bold" fill="#000" text-anchor="start" textLength="34.26" lengthAdjust="spacingAndGlyphs">LP</text>
<text id="dS" x="383.40" y="528.6" font-size="29.3" font-weight="bold" fill="#000" text-anchor="start" textLength="18.09" lengthAdjust="spacingAndGlyphs">S</text>
<text id="dTM" x="632.40" y="528.75" font-size="29.3" font-weight="bold" fill="#000" text-anchor="start" textLength="39.71" lengthAdjust="spacingAndGlyphs">TM</text>
<text id="le" x="39.40" y="590.6" font-size="30.5" font-weight="normal" fill="#000" text-anchor="start" textLength="26.14" lengthAdjust="spacingAndGlyphs" stroke="#000" stroke-width="0.35">e.</text>
<text id="he" x="99.20" y="590.2" font-size="28.3" font-weight="normal" fill="#000" text-anchor="start" textLength="1039.86" lengthAdjust="spacingAndGlyphs" stroke="#000" stroke-width="0.35">Spike Receptor Binding Domain - Enhanced T-cell Stimulation Domain (S RBD-ETSD)</text>
<rect x="78.2" y="615.3" width="377.4" height="36" fill="#548235" stroke="#1f3a4a" stroke-width="1.4"/>
<text id="eT" x="182.70" y="642.4" font-size="29.3" font-weight="bold" fill="#f4f8ee" text-anchor="start" textLength="165.41" lengthAdjust="spacingAndGlyphs">S RBD-ETSD</text>
<text id="lf" x="41.40" y="709.4" font-size="30.5" font-weight="normal" fill="#000" text-anchor="start" textLength="16.57" lengthAdjust="spacingAndGlyphs" stroke="#000" stroke-width="0.35">f.</text>
<text id="hf" x="100.20" y="709.4" font-size="28.8" font-weight="normal" fill="#000" text-anchor="start" textLength="293.34" lengthAdjust="spacingAndGlyphs" stroke="#000" stroke-width="0.35">Spike-Fusion (S-Fusion)</text>
<rect x="77" y="736.6" width="767.6" height="36.5" fill="#b21f26" stroke="#3d2a50" stroke-width="1.4"/>
<text id="fLP" x="111.00" y="764.6" font-size="29.3" font-weight="bold" fill="#fff" text-anchor="start" textLength="33.52" lengthAdjust="spacingAndGlyphs">LP</text>
<text id="fSF" x="398.40" y="764.5" font-size="29.3" font-weight="bold" fill="#fff" text-anchor="start" textLength="118.71" lengthAdjust="spacingAndGlyphs">S-Fusion</text>
<text id="fTM" x="768.60" y="764.6" font-size="29.3" font-weight="bold" fill="#fff" text-anchor="start" textLength="38.80" lengthAdjust="spacingAndGlyphs">TM</text>
<text id="lg" x="39.40" y="822.5" font-size="30.5" font-weight="normal" fill="#000" text-anchor="start" textLength="27.33" lengthAdjust="spacingAndGlyphs" stroke="#000" stroke-width="0.35">g.</text>
<text id="hg" x="98.90" y="822.4" font-size="28.5" font-weight="normal" fill="#000" text-anchor="start" textLength="372.96" lengthAdjust="spacingAndGlyphs" stroke="#000" stroke-width="0.35">Nucleocapsid-ETSD (N-ETSD)</text>
<rect x="78.4" y="856.5" width="1019.5" height="36.8" fill="#3656a6" stroke="#2c4a8c" stroke-width="1"/>
<text id="gT" x="536.90" y="884.6" font-size="29.3" font-weight="bold" fill="#fff" text-anchor="start" textLength="100.44" lengthAdjust="spacingAndGlyphs">N-ETSD</text>
<text id="lh" x="40.80" y="946" font-size="30.5" font-weight="normal" fill="#000" text-anchor="start" textLength="25.06" lengthAdjust="spacingAndGlyphs" stroke="#000" stroke-width="0.35">h.</text>
<text id="hh" x="101.20" y="945.9" font-size="28.8" font-weight="normal" fill="#000" text-anchor="start" textLength="346.06" lengthAdjust="spacingAndGlyphs" stroke="#000" stroke-width="0.35">Bivalent S-Fusion + N-ETSD</text>
<path d="M94,999 L90,999 Q78,999 78,1011 L78,1069.7 Q78,1081.7 90,1081.7 L1144.7,1081.7 Q1156.7,1081.7 1156.7,1069.7 L1156.7,1012 Q1156.7,1000 1146,1000" fill="none" stroke="#000" stroke-width="5.4"/>
<rect x="171" y="991.3" width="310" height="16.9" fill="#b31f24" stroke="#4a2c5a" stroke-width="0.8"/>
<rect x="647" y="992.7" width="416" height="20" fill="#3655a5"/>
<line x1="565" y1="999.2" x2="570" y2="999.2" stroke="#000" stroke-width="3.5"/>
<rect x="94.05000000000001" y="985.05" width="77.10000000000001" height="32.7" fill="#fff" stroke="#34507a" stroke-width="1.3" rx="5"/>
<rect x="480.95" y="986.65" width="84.10000000000004" height="30.999999999999954" fill="#fff" stroke="#34507a" stroke-width="1.3" rx="5"/>
<rect x="569.4499999999999" y="985.15" width="77.40000000000005" height="32.49999999999996" fill="#fff" stroke="#34507a" stroke-width="1.3" rx="5"/>
<rect x="1063.45" y="984.85" width="83.99999999999996" height="32.99999999999996" fill="#fff" stroke="#34507a" stroke-width="1.3" rx="5"/>
<text id="c1" x="107.50" y="1008.5" font-size="21.8" font-weight="bold" fill="#000" text-anchor="start" textLength="46.71" lengthAdjust="spacingAndGlyphs">CMV</text>
<text id="s1" x="497.00" y="1009.1" font-size="21.8" font-weight="bold" fill="#000" text-anchor="start" textLength="50.54" lengthAdjust="spacingAndGlyphs">SV40</text>
<text id="c2" x="583.00" y="1008.5" font-size="21.8" font-weight="bold" fill="#000" text-anchor="start" textLength="45.97" lengthAdjust="spacingAndGlyphs">CMV</text>
<text id="s2" x="1079.50" y="1008" font-size="21.8" font-weight="bold" fill="#000" text-anchor="start" textLength="48.77" lengthAdjust="spacingAndGlyphs">SV40</text>
<text id="hAd" x="521.40" y="1072.5" font-size="20" font-weight="bold" fill="#000" text-anchor="start" textLength="200.25" lengthAdjust="spacingAndGlyphs">hAd5 [E1-, E2b-, E3-]</text></svg>
</body></html>
